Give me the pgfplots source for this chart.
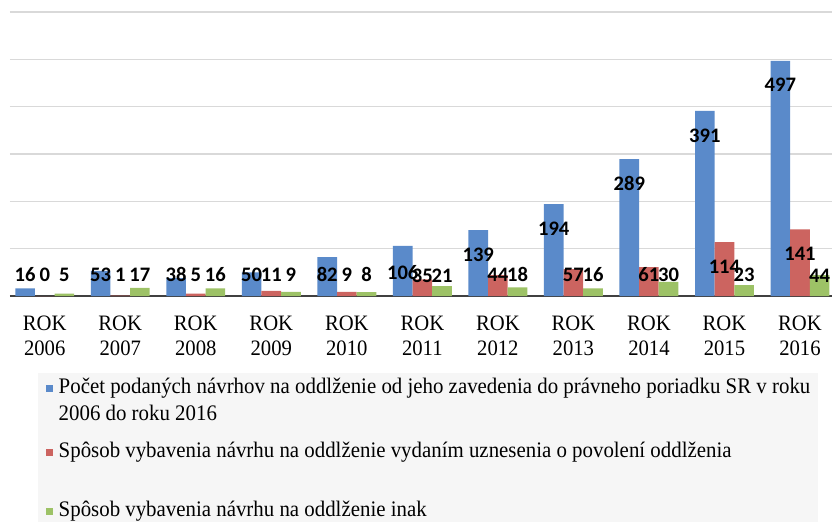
\documentclass[border=0pt]{standalone}
\usepackage{fontspec}
\setmainfont{Liberation Serif}[FakeStretch=0.94]
\newfontfamily\lblfont{Carlito}
\usepackage{pgfplots}
\usepackage{pgfplotstable}
\pgfplotsset{compat=1.18}
\definecolor{cblue}{HTML}{5A8ACA}
\definecolor{cred}{HTML}{CC6460}
\definecolor{cgreen}{HTML}{9DC266}
\definecolor{gridc}{HTML}{D9D9D9}
\definecolor{legbg}{HTML}{F6F6F6}
\pgfplotstableread{
x a b c la lb lc
0 16 0 5 45 45 45
1 53 1 17 45 45 45
2 38 5 16 45 45 45
3 50 11 9 45 45 45
4 82 9 8 45 45 45
5 106 35 21 49 43 43
6 139 44 18 87 45 45
7 194 57 16 142 45 45
8 289 61 30 237 45 45
9 391 114 23 338 61 45
10 497 141 44 446 89 42
}\datatable
\begin{document}
\begin{tikzpicture}
\useasboundingbox (0,0) rectangle (416pt,-260.5pt);
\begin{axis}[
  at={(5pt,-148pt)}, anchor=south west,
  scale only axis, width=411pt, height=142pt,
  xmin=-0.46, xmax=10.424, ymin=0, ymax=600,
  clip=false,
  /pgf/number format/assume math mode=true,
  axis line style={draw=none},
  major tick length=0pt,
  ytick={100,200,300,400,500,600}, yticklabels={},
  ymajorgrids, grid style={gridc, line width=0.8pt},
  extra y ticks={0}, extra y tick labels={},
  extra y tick style={grid=major, major grid style={draw=black!75, line width=1.2pt}},
  xtick={0,...,10},
  xticklabels={{ROK\\2006},{ROK\\2007},{ROK\\2008},{ROK\\2009},{ROK\\2010},{ROK\\2011},{ROK\\2012},{ROK\\2013},{ROK\\2014},{ROK\\2015},{ROK\\2016}},
  xticklabel style={align=center, font=\fontsize{11}{12.5}\selectfont, anchor=north, inner sep=0pt, yshift=-10pt},
  legend image code/.code={\fill[#1] (0pt,0.4pt) rectangle (3.6pt,4pt);},
  legend style={at={(axis description cs:0.033,-0.271)}, anchor=north west,
    fill=legbg, draw=none, inner xsep=4pt, inner ysep=0.5pt,
    cells={anchor=base west}, nodes={inner sep=0pt, text depth=},
    column sep=3pt, row sep=0pt, font=\fontsize{11.1}{13.5}\selectfont},
  nodes near coords align={center},
  every node near coord/.append style={font=\lblfont\bfseries\fontsize{10.3}{12}\selectfont, text=black, inner sep=0pt},
]
\addplot[ybar, bar width=0.26, bar shift=-0.26, fill=cblue, draw=none] table[x=x, y=a]{\datatable};
\addlegendentry{\vtop{\hbox{\strut Počet podaných návrhov na oddlženie od jeho zavedenia do právneho poriadku SR v roku}\hbox{\strut 2006 do roku 2016\rule[-9.05pt]{0pt}{0pt}}}}
\addplot[ybar, bar width=0.26, bar shift=0, fill=cred, draw=none] table[x=x, y=b]{\datatable};
\addlegendentry{\strut Spôsob vybavenia návrhu na oddlženie vydaním uznesenia o povolení oddlženia\rule[-20.05pt]{0pt}{0pt}}
\addplot[ybar, bar width=0.26, bar shift=0.26, fill=cgreen, draw=none] table[x=x, y=c]{\datatable};
\addlegendentry{\strut Spôsob vybavenia návrhu na oddlženie inak}
\addplot[forget plot, draw=none, mark=none, nodes near coords, point meta=explicit] table[x expr=\thisrow{x}-0.26, y=la, meta=a]{\datatable};
\addplot[forget plot, draw=none, mark=none, nodes near coords, point meta=explicit] table[x=x, y=lb, meta=b]{\datatable};
\addplot[forget plot, draw=none, mark=none, nodes near coords, point meta=explicit] table[x expr=\thisrow{x}+0.26, y=lc, meta=c]{\datatable};
\end{axis}
\end{tikzpicture}
\end{document}
